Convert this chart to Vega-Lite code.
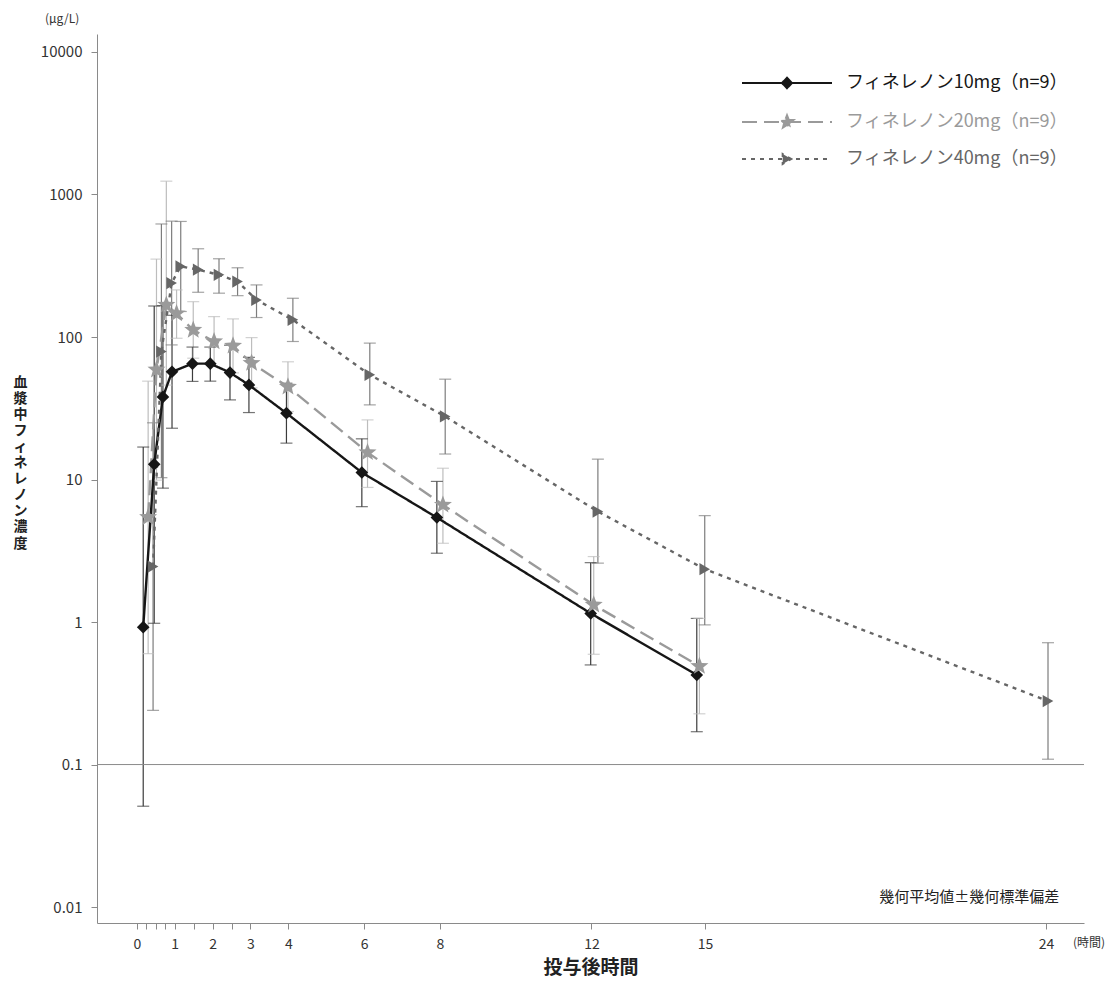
{
  "$schema": "https://vega.github.io/schema/vega-lite/v6.json",
  "width": 987,
  "height": 889,
  "autosize": "none",
  "padding": {"left": 97, "top": 34, "right": 28, "bottom": 81},
  "background": "white",
  "config": {
    "view": {"stroke": null},
    "font": "Noto Sans CJK JP",
    "axis": {
      "domainColor": "#8a8a8a",
      "tickColor": "#8a8a8a",
      "labelColor": "#333333",
      "labelFont": "Noto Sans CJK JP",
      "labelFontSize": 14,
      "titleFont": "Noto Sans CJK JP",
      "titleColor": "#222222",
      "grid": false,
      "tickSize": 6
    }
  },
  "title": {
    "text": "(μg/L)",
    "anchor": "start",
    "frame": "group",
    "dx": -52,
    "offset": 8,
    "fontSize": 12,
    "fontWeight": "normal",
    "color": "#333333",
    "font": "Noto Sans CJK JP"
  },
  "datasets": {
    "pk": [
      {"series": "フィネレノン10mg（n=9）", "time": 0.17, "conc": 0.92, "lower": 0.051, "upper": 16.9},
      {"series": "フィネレノン10mg（n=9）", "time": 0.46, "conc": 12.8, "lower": 0.98, "upper": 165},
      {"series": "フィネレノン10mg（n=9）", "time": 0.69, "conc": 38, "lower": 8.7, "upper": 166},
      {"series": "フィネレノン10mg（n=9）", "time": 0.93, "conc": 57, "lower": 22.9, "upper": 142},
      {"series": "フィネレノン10mg（n=9）", "time": 1.47, "conc": 65, "lower": 48.8, "upper": 85},
      {"series": "フィネレノン10mg（n=9）", "time": 1.94, "conc": 65, "lower": 49, "upper": 85},
      {"series": "フィネレノン10mg（n=9）", "time": 2.46, "conc": 56.3, "lower": 36.2, "upper": 87.6},
      {"series": "フィネレノン10mg（n=9）", "time": 2.96, "conc": 46.1, "lower": 29.5, "upper": 72},
      {"series": "フィネレノン10mg（n=9）", "time": 3.95, "conc": 29.2, "lower": 18, "upper": 47.4},
      {"series": "フィネレノン10mg（n=9）", "time": 5.94, "conc": 11.2, "lower": 6.45, "upper": 19.3},
      {"series": "フィネレノン10mg（n=9）", "time": 7.92, "conc": 5.41, "lower": 3.04, "upper": 9.7},
      {"series": "フィネレノン10mg（n=9）", "time": 11.98, "conc": 1.15, "lower": 0.5, "upper": 2.61},
      {"series": "フィネレノン10mg（n=9）", "time": 14.78, "conc": 0.425, "lower": 0.17, "upper": 1.06},
      {"series": "フィネレノン20mg（n=9）", "time": 0.30, "conc": 5.44, "lower": 0.6, "upper": 49},
      {"series": "フィネレノン20mg（n=9）", "time": 0.52, "conc": 58.9, "lower": 9.9, "upper": 352},
      {"series": "フィネレノン20mg（n=9）", "time": 0.78, "conc": 168, "lower": 46, "upper": 1240},
      {"series": "フィネレノン20mg（n=9）", "time": 1.05, "conc": 146, "lower": 98, "upper": 214},
      {"series": "フィネレノン20mg（n=9）", "time": 1.49, "conc": 112, "lower": 71, "upper": 177},
      {"series": "フィネレノン20mg（n=9）", "time": 2.04, "conc": 93, "lower": 62, "upper": 139},
      {"series": "フィネレノン20mg（n=9）", "time": 2.54, "conc": 86.7, "lower": 56, "upper": 134},
      {"series": "フィネレノン20mg（n=9）", "time": 3.03, "conc": 65.6, "lower": 44, "upper": 99},
      {"series": "フィネレノン20mg（n=9）", "time": 3.99, "conc": 44.7, "lower": 30, "upper": 67},
      {"series": "フィネレノン20mg（n=9）", "time": 6.09, "conc": 15.5, "lower": 8.8, "upper": 26.2},
      {"series": "フィネレノン20mg（n=9）", "time": 8.08, "conc": 6.64, "lower": 3.57, "upper": 12.0},
      {"series": "フィネレノン20mg（n=9）", "time": 12.06, "conc": 1.32, "lower": 0.594, "upper": 2.88},
      {"series": "フィネレノン20mg（n=9）", "time": 14.85, "conc": 0.49, "lower": 0.227, "upper": 1.06},
      {"series": "フィネレノン40mg（n=9）", "time": 0.43, "conc": 2.45, "lower": 0.24, "upper": 25},
      {"series": "フィネレノン40mg（n=9）", "time": 0.65, "conc": 79, "lower": 10.3, "upper": 621},
      {"series": "フィネレノン40mg（n=9）", "time": 0.92, "conc": 239, "lower": 88, "upper": 650},
      {"series": "フィネレノン40mg（n=9）", "time": 1.16, "conc": 313, "lower": 151, "upper": 647},
      {"series": "フィネレノン40mg（n=9）", "time": 1.62, "conc": 297, "lower": 206, "upper": 416},
      {"series": "フィネレノン40mg（n=9）", "time": 2.17, "conc": 273, "lower": 203, "upper": 354},
      {"series": "フィネレノン40mg（n=9）", "time": 2.66, "conc": 245, "lower": 195, "upper": 306},
      {"series": "フィネレノン40mg（n=9）", "time": 3.16, "conc": 182, "lower": 137, "upper": 232},
      {"series": "フィネレノン40mg（n=9）", "time": 4.12, "conc": 132, "lower": 93, "upper": 187},
      {"series": "フィネレノン40mg（n=9）", "time": 6.15, "conc": 54.3, "lower": 33.4, "upper": 90.6},
      {"series": "フィネレノン40mg（n=9）", "time": 8.14, "conc": 27.7, "lower": 15.1, "upper": 50.6},
      {"series": "フィネレノン40mg（n=9）", "time": 12.17, "conc": 5.96, "lower": 2.59, "upper": 13.9},
      {"series": "フィネレノン40mg（n=9）", "time": 14.99, "conc": 2.35, "lower": 0.955, "upper": 5.58},
      {"series": "フィネレノン40mg（n=9）", "time": 24.05, "conc": 0.279, "lower": 0.109, "upper": 0.716}
    ],
    "notes": [
      {"note": "幾何平均値±幾何標準偏差", "time": 24.35, "conc": 0.0117},
      {"note": "(時間)", "time": 25, "conc": 0.00773}
    ]
  },
  "layer": [
    {
      "data": {"name": "pk"},
      "mark": {"type": "rule", "strokeWidth": 1.2},
      "encoding": {
        "x": {
          "field": "time",
          "type": "quantitative",
          "scale": {"domain": [-1.05, 25], "nice": false, "zero": false},
          "axis": {
            "title": "投与後時間",
            "titleFontSize": 19,
            "titleFontWeight": "bold",
            "titleY": 35,
            "titleBaseline": "top",
            "values": [0, 0.25, 0.5, 0.75, 1, 1.5, 2, 2.5, 3, 4, 6, 8, 12, 15, 24],
            "labelExpr": "indexof([0,1,2,3,4,6,8,12,15,24], datum.value) >= 0 ? datum.label : ''",
            "labelPadding": 8,
            "labelOverlap": false,
            "labelFlush": false,
            "labelBound": false
          }
        },
        "y": {
          "field": "lower",
          "type": "quantitative",
          "scale": {"type": "log", "domain": [0.00773, 13370], "nice": false},
          "axis": {
            "title": ["血", "漿", "中", "フ", "ィ", "ネ", "レ", "ノ", "ン", "濃", "度"],
            "titleAngle": 0,
            "titleX": -77,
            "titleY": 341,
            "titleAlign": "center",
            "titleBaseline": "top",
            "titleLineHeight": 16.1,
            "titleFontSize": 14,
            "titleFontWeight": "bold",
            "values": [0.01, 0.1, 1, 10, 100, 1000, 10000],
            "format": "~g",
            "labelFontSize": 15,
            "labelPadding": 9
          }
        },
        "y2": {"field": "upper"},
        "stroke": {
          "field": "series",
          "type": "nominal",
          "scale": {"range": ["#3c3c3c", "#bdbdbd", "#7d7d7d"]},
          "legend": null
        }
      }
    },
    {
      "data": {"name": "pk"},
      "mark": {"type": "tick", "orient": "horizontal", "size": 12, "thickness": 1.2, "strokeWidth": 0},
      "encoding": {
        "x": {"field": "time", "type": "quantitative"},
        "y": {"field": "lower", "type": "quantitative", "scale": {"type": "log"}},
        "fill": {"field": "series", "type": "nominal", "scale": {"range": ["#3c3c3c", "#bdbdbd", "#7d7d7d"]}, "legend": null}
      }
    },
    {
      "data": {"name": "pk"},
      "mark": {"type": "tick", "orient": "horizontal", "size": 12, "thickness": 1.2, "strokeWidth": 0},
      "encoding": {
        "x": {"field": "time", "type": "quantitative"},
        "y": {"field": "upper", "type": "quantitative", "scale": {"type": "log"}},
        "fill": {"field": "series", "type": "nominal", "legend": null}
      }
    },
    {
      "data": {"values": [{"conc": 0.1}]},
      "mark": {"type": "rule", "stroke": "#8a8a8a", "strokeWidth": 1},
      "encoding": {
        "y": {"field": "conc", "type": "quantitative", "scale": {"type": "log"}}
      }
    },
    {
      "data": {"name": "notes"},
      "transform": [{"filter": "datum.time < 25"}],
      "mark": {"type": "text", "align": "right", "baseline": "middle", "fontSize": 15, "fill": "#222222"},
      "encoding": {
        "x": {"field": "time", "type": "quantitative"},
        "y": {"field": "conc", "type": "quantitative", "scale": {"type": "log"}},
        "text": {"field": "note", "type": "nominal"}
      }
    },
    {
      "data": {"name": "notes"},
      "transform": [{"filter": "datum.time >= 25"}],
      "mark": {"type": "text", "align": "left", "baseline": "middle", "fontSize": 12, "fill": "#333333", "dx": -11, "dy": 20},
      "encoding": {
        "x": {"field": "time", "type": "quantitative"},
        "y": {"field": "conc", "type": "quantitative", "scale": {"type": "log"}},
        "text": {"field": "note", "type": "nominal"}
      }
    },
    {
      "data": {"name": "pk"},
      "mark": {"type": "line", "strokeWidth": 2.4},
      "encoding": {
        "x": {"field": "time", "type": "quantitative"},
        "y": {"field": "conc", "type": "quantitative", "scale": {"type": "log"}},
        "color": {
          "field": "series",
          "type": "nominal",
          "scale": {"domain": ["フィネレノン10mg（n=9）", "フィネレノン20mg（n=9）", "フィネレノン40mg（n=9）"], "range": ["#161616", "#9a9a9a", "#666666"]},
          "legend": {
            "orient": "none",
            "legendX": 644,
            "legendY": 40,
            "padding": 0,
            "title": null,
            "symbolSize": 256,
            "symbolStrokeWidth": 2,
            "labelFontSize": 18,
            "labelFont": "Noto Sans CJK JP",
            "labelOffset": 87,
            "labelLimit": 400,
            "rowPadding": 18,
            "encode": {
              "symbols": {
                "update": {
                  "shape": {"signal": "datum.value == 'フィネレノン10mg（n=9）' ? 'M-1,0L10.25,0M4.625,-0.65L5.25,0L4.625,0.65L4,0Z' : (datum.value == 'フィネレノン20mg（n=9）' ? 'M-1,0L10.25,0M4.625,-0.85L4.837,-0.291L5.433,-0.263L4.967,0.111L5.125,0.688L4.625,0.36L4.125,0.688L4.283,0.111L3.817,-0.263L4.413,-0.291Z' : 'M-1,0L10.25,0M5.166,0L4.084,-0.625L4.084,0.625Z')"},
                  "fill": {"scale": "color", "field": "value"},
                  "stroke": {"scale": "color", "field": "value"},
                  "opacity": {"value": 1}
                }
              },
              "labels": {
                "update": {"fill": {"scale": "color", "field": "value"}}
              }
            }
          }
        },
        "strokeDash": {
          "field": "series",
          "type": "nominal",
          "scale": {"domain": ["フィネレノン10mg（n=9）", "フィネレノン20mg（n=9）", "フィネレノン40mg（n=9）"], "range": [[1, 0], [15, 7], [4, 5]]}
        }
      }
    },
    {
      "data": {"name": "pk"},
      "transform": [{"filter": {"field": "series", "equal": "フィネレノン10mg（n=9）"}}],
      "mark": {"type": "point", "filled": true, "opacity": 1, "strokeWidth": 0, "shape": "diamond", "size": 160},
      "encoding": {
        "x": {"field": "time", "type": "quantitative"},
        "y": {"field": "conc", "type": "quantitative", "scale": {"type": "log"}},
        "color": {"field": "series", "type": "nominal"}
      }
    },
    {
      "data": {"name": "pk"},
      "transform": [{"filter": {"field": "series", "equal": "フィネレノン20mg（n=9）"}}],
      "mark": {"type": "point", "filled": true, "opacity": 1, "strokeWidth": 0, "shape": "M0,-1L0.247,-0.34L0.951,-0.309L0.399,0.13L0.588,0.809L0,0.42L-0.588,0.809L-0.399,0.13L-0.951,-0.309L-0.247,-0.34Z", "size": 360},
      "encoding": {
        "x": {"field": "time", "type": "quantitative"},
        "y": {"field": "conc", "type": "quantitative", "scale": {"type": "log"}},
        "color": {"field": "series", "type": "nominal"}
      }
    },
    {
      "data": {"name": "pk"},
      "transform": [{"filter": {"field": "series", "equal": "フィネレノン40mg（n=9）"}}],
      "mark": {"type": "point", "filled": true, "opacity": 1, "strokeWidth": 0, "shape": "triangle-right", "size": 150},
      "encoding": {
        "x": {"field": "time", "type": "quantitative"},
        "y": {"field": "conc", "type": "quantitative", "scale": {"type": "log"}},
        "color": {"field": "series", "type": "nominal"}
      }
    }
  ]
}
